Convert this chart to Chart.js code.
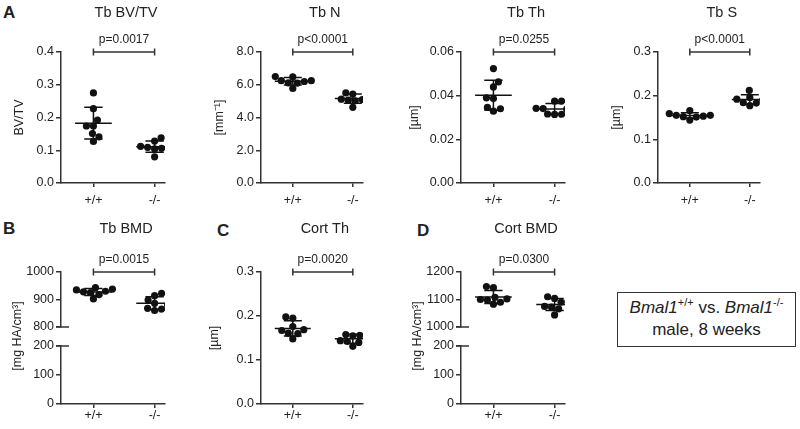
<!DOCTYPE html>
<html><head><meta charset="utf-8">
<script src="https://cdn.jsdelivr.net/npm/chart.js@4"></script>
<style>
html,body{margin:0;padding:0;background:#fff}
body{width:800px;height:429px;overflow:hidden;position:relative;font-family:"Liberation Sans",Arial,Helvetica,sans-serif;color:#222}
canvas{position:absolute}
.lbl{position:absolute;font-weight:bold;font-size:17px;line-height:17px}
#legend{position:absolute;left:617px;top:292px;width:179px;height:55px;border:1.5px solid #333;box-sizing:border-box;text-align:center;font-size:17px;line-height:22px;padding-top:4px}
#legend sup{font-size:11px;line-height:0;vertical-align:7px}
</style></head><body>
<div class="lbl" style="left:3px;top:4px">A</div>
<div class="lbl" style="left:3px;top:220px">B</div>
<div class="lbl" style="left:217px;top:222px">C</div>
<div class="lbl" style="left:417px;top:222px">D</div>
<div id="legend"><i>Bmal1</i><sup>+/+</sup> vs. <i>Bmal1</i><sup>-/-</sup><br>male, 8 weeks</div>
<script>
// ---------- data ----------
const categories = ['+/+', '-/-'];

const tbBvTvWT = [0.275, 0.227, 0.192, 0.174, 0.174, 0.151, 0.141, 0.127];
const tbBvTvKO = [0.138, 0.128, 0.112, 0.110, 0.109, 0.106, 0.104, 0.080];
const tbNWT = [6.50, 6.48, 6.25, 6.25, 6.20, 6.12, 6.10, 5.77];
const tbNKO = [5.50, 5.43, 5.40, 5.12, 5.10, 5.06, 5.02, 4.62];
const tbThWT = [0.0524, 0.0463, 0.0440, 0.0390, 0.0387, 0.0346, 0.0340, 0.0329];
const tbThKO = [0.0375, 0.0375, 0.0342, 0.0341, 0.0338, 0.0316, 0.0315, 0.0314];
const tbSWT = [0.166, 0.159, 0.155, 0.155, 0.153, 0.152, 0.151, 0.144];
const tbSKO = [0.212, 0.197, 0.196, 0.192, 0.190, 0.184, 0.183, 0.177];
const tbBmdWT = [943, 938, 935, 930, 928, 925, 918, 902];
const tbBmdKO = [922, 914, 898, 886, 880, 868, 865, 860];
const cortThWT = [0.198, 0.195, 0.176, 0.169, 0.167, 0.161, 0.160, 0.148];
const cortThKO = [0.159, 0.158, 0.156, 0.155, 0.144, 0.142, 0.140, 0.131];
const cortBmdWT = [1147, 1143, 1108, 1102, 1100, 1098, 1090, 1083];
const cortBmdKO = [1110, 1104, 1095, 1090, 1075, 1072, 1066, 1044];

const panelTitles = ['Tb BV/TV', 'Tb N', 'Tb Th', 'Tb S', 'Tb BMD', 'Cort Th', 'Cort BMD'];
const pValues = ['p=0.0017', 'p<0.0001', 'p=0.0255', 'p<0.0001', 'p=0.0015', 'p=0.0020', 'p=0.0300'];
const yTitles = ['BV/TV', '[mm\u207B\u00B9]', '[\u00B5m]', '[\u00B5m]', '[mg HA/cm\u00B3]', '[\u00B5m]', '[mg HA/cm\u00B3]'];

const tbBvTvTicks = [0, 0.1, 0.2, 0.3, 0.4];
const tbNTicks = [0, 2, 4, 6, 8];
const tbThTicks = [0, 0.02, 0.04, 0.06];
const tbSTicks = [0, 0.1, 0.2, 0.3];
const tbBmdTicksHigh = [800, 900, 1000];
const tbBmdTicksLow = [0, 100, 200];
const cortThTicks = [0, 0.1, 0.2, 0.3];
const cortBmdTicksHigh = [1000, 1100, 1200];
const cortBmdTicksLow = [0, 100, 200];

// ---------- style / helpers ----------
const FAMILY = '"Liberation Sans", Arial, Helvetica, sans-serif';
const INK = '#222', AX = '#333', DOT = '#111';
const TICK_FONT = 12.5, TITLE_FONT = 14.5, P_FONT = 12, YT_FONT = 12.5;
Chart.defaults.font.family = FAMILY;
Chart.defaults.color = INK;

function stats(a) {
  const m = a.reduce((s, v) => s + v, 0) / a.length;
  const sd = Math.sqrt(a.reduce((s, v) => s + (v - m) * (v - m), 0) / (a.length - 1));
  return { m, sd };
}
function statLines(c, a) {
  const { m, sd } = stats(a);
  const G = { x: c, y: null };
  return [
    { x: c - 0.3, y: m }, { x: c + 0.3, y: m }, G,
    { x: c, y: m - sd }, { x: c, y: m + sd }, G,
    { x: c - 0.15, y: m + sd }, { x: c + 0.15, y: m + sd }, G,
    { x: c - 0.15, y: m - sd }, { x: c + 0.15, y: m - sd }
  ];
}

const annotPlugin = {
  id: 'annot',
  afterDraw(chart, args, o) {
    const ctx = chart.ctx, xs = chart.scales.x, ys = chart.scales.y;
    ctx.save();
    ctx.fillStyle = INK; ctx.strokeStyle = AX; ctx.textAlign = 'center'; ctx.textBaseline = 'middle';
    const x0 = xs.getPixelForValue(0), x1 = xs.getPixelForValue(1), cx = (x0 + x1) / 2;
    if (o.title) { ctx.font = TITLE_FONT + 'px ' + FAMILY; ctx.fillText(o.title, cx + 2, o.titleY); }
    if (o.p) {
      ctx.font = P_FONT + 'px ' + FAMILY; ctx.fillText(o.p, cx, o.pY);
      const yb = ys.getPixelForValue(ys.max);
      ctx.lineWidth = 1.5; ctx.beginPath();
      ctx.moveTo(x0, yb); ctx.lineTo(x1, yb);
      ctx.moveTo(x0, yb - 3.5); ctx.lineTo(x0, yb + 3.5);
      ctx.moveTo(x1, yb - 3.5); ctx.lineTo(x1, yb + 3.5);
      ctx.stroke();
    }
    if (o.breakAt != null) {
      const yb = ys.getPixelForValue(o.breakAt), ax = ys.right;
      ctx.lineWidth = 1.5; ctx.beginPath(); ctx.moveTo(ax - 5, yb); ctx.lineTo(ax + 8, yb); ctx.stroke();
    }
    if (o.yTitle) {
      ctx.font = YT_FONT + 'px ' + FAMILY; ctx.translate(o.yTitleX, o.yTitleY); ctx.rotate(-Math.PI / 2);
      ctx.fillText(o.yTitle, 0, 0);
    }
    ctx.restore();
  }
};

function makeChart(c) {
  const cv = document.createElement('canvas');
  cv.width = c.w; cv.height = c.h;
  cv.style.left = c.left + 'px'; cv.style.top = c.top + 'px';
  cv.style.width = c.w + 'px'; cv.style.height = c.h + 'px';
  document.body.appendChild(cv);
  const datasets = [];
  (c.groups || []).forEach((vals, gi) => datasets.push({
    data: statLines(gi, vals), showLine: true, pointRadius: 0, pointHoverRadius: 0,
    borderColor: DOT, borderWidth: 1.5, spanGaps: false
  }));
  (c.groups || []).forEach((vals, gi) => datasets.push({
    data: vals.map(v => ({ x: gi, y: v })), pointRadius: 3.6, pointHoverRadius: 3.6,
    backgroundColor: DOT, borderWidth: 0
  }));
  const chart = new Chart(cv, {
    type: 'scatter',
    data: { datasets },
    options: {
      responsive: false, devicePixelRatio: 1, animation: false, events: [],
      layout: { padding: { left: 0, top: c.padTop, right: c.padRight, bottom: c.padBottom } },
      plugins: { legend: { display: false }, tooltip: { enabled: false }, annot: c.annot || {} },
      scales: {
        x: {
          type: 'linear', min: -0.53, max: 1.17, display: c.showX,
          afterBuildTicks: s => { s.ticks = [{ value: 0 }, { value: 1 }]; },
          afterFit: s => { s.height = c.showX ? c.xH : 0; },
          ticks: { callback: v => categories[v], font: { size: TICK_FONT }, color: INK, padding: c.xPad, maxRotation: 0, autoSkip: false },
          grid: { drawOnChartArea: false, drawTicks: true, tickLength: 4, color: AX, lineWidth: 1.5 },
          border: { display: true, color: AX, width: 1.5 }
        },
        y: {
          type: 'linear', min: c.ticks[0], max: c.ticks[c.ticks.length - 1],
          afterBuildTicks: s => { s.ticks = c.ticks.map(v => ({ value: v })); },
          afterFit: s => { s.width = c.yW; },
          ticks: { callback: v => v.toFixed(c.dec), font: { size: TICK_FONT }, color: INK, padding: 2 },
          grid: { drawOnChartArea: false, drawTicks: true, tickLength: 5, color: AX, lineWidth: 1.5 },
          border: { display: true, color: AX, width: 1.5 },
          title: {
            display: !!c.yTitle, text: c.yTitle || '', font: { size: YT_FONT }, color: INK,
            padding: { top: (c.yTitleX || 0) - YT_FONT * 0.6, bottom: 0 }
          }
        }
      }
    },
    plugins: [annotPlugin]
  });
  if (c.groups) applySwarm(chart, c.groups);
  return chart;
}

// beeswarm spreading of dots that would otherwise overlap (computed in pixel space via the scales)
function applySwarm(chart, groups) {
  const xs = chart.scales.x, ys = chart.scales.y;
  const ppu = xs.getPixelForValue(1) - xs.getPixelForValue(0);
  const D = 7;
  groups.forEach((vals, gi) => {
    const order = vals.map((v, i) => i).sort((a, b) => vals[a] - vals[b]);
    const placed = []; const offs = new Array(vals.length).fill(0);
    let bal = 0;
    for (const i of order) {
      const py = ys.getPixelForValue(vals[i]);
      let chosen = 0;
      outer: for (let d = 0; d < 80; d += 0.5) {
        const cands = d === 0 ? [0] : (bal > 0 ? [-d, d] : [d, -d]);
        for (const s of cands) {
          if (placed.every(p => Math.hypot(p.x - s, p.y - py) >= D)) { chosen = s; break outer; }
        }
      }
      placed.push({ x: chosen, y: py }); bal += chosen;
      offs[i] = chosen / ppu;
    }
    chart.data.datasets[groups.length + gi].data = vals.map((v, i) => ({ x: gi + offs[i], y: v }));
  });
  chart.update('none');
}

// ---------- layout ----------
const R1 = { top: 0, h: 215, padTop: 52, padBottom: 7, xH: 25, xPad: 6, showX: true };
const R2 = { top: 215, h: 214, padTop: 57, padBottom: 3, xH: 22, xPad: 0, showX: true };

// Row 1
makeChart(Object.assign({}, R1, { left: 0, w: 200, yW: 61, padRight: 35, ticks: tbBvTvTicks, dec: 1,
  groups: [tbBvTvWT, tbBvTvKO], yTitle: yTitles[0], yTitleX: 20,
  annot: { title: panelTitles[0], titleY: 12.5, p: pValues[0], pY: 40 } }));
makeChart(Object.assign({}, R1, { left: 200, w: 200, yW: 61, padRight: 37, ticks: tbNTicks, dec: 1,
  groups: [tbNWT, tbNKO], yTitle: yTitles[1], yTitleX: 20,
  annot: { title: panelTitles[1], titleY: 12.5, p: pValues[1], pY: 40 } }));
makeChart(Object.assign({}, R1, { left: 400, w: 200, yW: 61, padRight: 35, ticks: tbThTicks, dec: 2,
  groups: [tbThWT, tbThKO], yTitle: yTitles[2], yTitleX: 15,
  annot: { title: panelTitles[2], titleY: 12.5, p: pValues[2], pY: 40 } }));
makeChart(Object.assign({}, R1, { left: 600, w: 200, yW: 58, padRight: 40, ticks: tbSTicks, dec: 1,
  groups: [tbSWT, tbSKO], yTitle: yTitles[3], yTitleX: 17,
  annot: { title: panelTitles[3], titleY: 12.5, p: pValues[3], pY: 40 } }));

// Row 2: B (broken axis)
makeChart({ left: 0, top: 215, w: 200, h: 125, padTop: 57, padBottom: 13, xH: 0, showX: false, xPad: 0,
  yW: 61, padRight: 35, ticks: tbBmdTicksHigh, dec: 0, groups: [tbBmdWT, tbBmdKO],
  annot: { title: panelTitles[4], titleY: 14, p: pValues[4], pY: 45, breakAt: tbBmdTicksHigh[0] } });
makeChart(Object.assign({}, R2, { left: 0, w: 200, padTop: 131, yW: 61, padRight: 35, ticks: tbBmdTicksLow, dec: 0,
  annot: { breakAt: tbBmdTicksLow[tbBmdTicksLow.length - 1], yTitle: yTitles[4], yTitleX: 18, yTitleY: 121 } }));

// C
makeChart(Object.assign({}, R2, { left: 200, w: 200, yW: 61, padRight: 37, ticks: cortThTicks, dec: 1,
  groups: [cortThWT, cortThKO], yTitle: yTitles[5], yTitleX: 15,
  annot: { title: panelTitles[5], titleY: 14, p: pValues[5], pY: 45 } }));

// D (broken axis)
makeChart({ left: 400, top: 215, w: 200, h: 125, padTop: 57, padBottom: 13, xH: 0, showX: false, xPad: 0,
  yW: 61, padRight: 35, ticks: cortBmdTicksHigh, dec: 0, groups: [cortBmdWT, cortBmdKO],
  annot: { title: panelTitles[6], titleY: 14, p: pValues[6], pY: 45, breakAt: cortBmdTicksHigh[0] } });
makeChart(Object.assign({}, R2, { left: 400, w: 200, padTop: 131, yW: 61, padRight: 35, ticks: cortBmdTicksLow, dec: 0,
  annot: { breakAt: cortBmdTicksLow[cortBmdTicksLow.length - 1], yTitle: yTitles[6], yTitleX: 18, yTitleY: 121 } }));
</script>
</body></html>
